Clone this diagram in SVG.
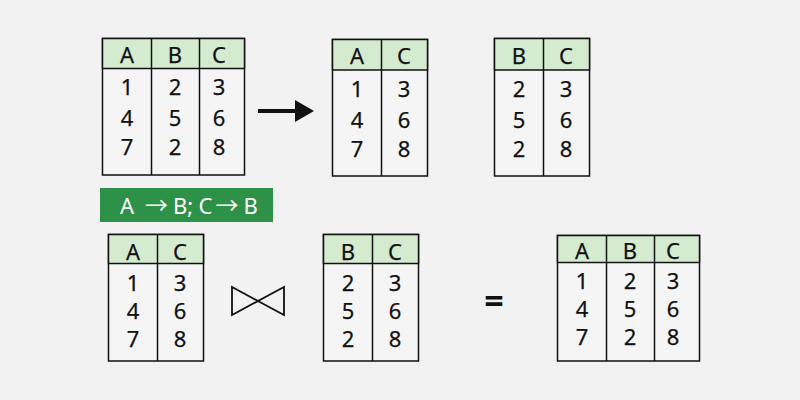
<svg xmlns="http://www.w3.org/2000/svg" width="800" height="400" viewBox="0 0 800 400">
<style>
.bg{fill:#f2f2f2}
.hd{fill:#d5ebd0;stroke:#111;stroke-width:1.5}
.bd{fill:#f5f5f5;stroke:#111;stroke-width:1.5}
.ln{stroke:#111;stroke-width:1.5}
.t{font-family:"Noto Sans","Open Sans","DejaVu Sans",sans-serif;font-size:22px;fill:#111;stroke:#111;stroke-width:0.25;text-anchor:middle}
.lbl{font-family:"Noto Sans","Open Sans","DejaVu Sans",sans-serif;font-size:22px;fill:#fff}
.arr{font-family:"Noto Sans CJK SC","Noto Sans","DejaVu Sans",sans-serif;font-size:23px}
</style>
<rect class="bg" x="0" y="0" width="800" height="400"/>

<g id="table-abc-top">
<rect class="bd" x="102.5" y="38.5" width="142" height="136.5"/>
<rect class="hd" x="102.5" y="38.5" width="142" height="30"/>
<line class="ln" x1="151.5" y1="38.5" x2="151.5" y2="175"/>
<line class="ln" x1="199.5" y1="38.5" x2="199.5" y2="175"/>
<text class="t" x="127" y="63">A</text><text class="t" x="175" y="63">B</text><text class="t" x="219" y="63">C</text>
<text class="t" x="127" y="95">1</text><text class="t" x="175" y="95">2</text><text class="t" x="219" y="95">3</text>
<text class="t" x="127" y="126">4</text><text class="t" x="175" y="126">5</text><text class="t" x="219" y="126">6</text>
<text class="t" x="127" y="155">7</text><text class="t" x="175" y="155">2</text><text class="t" x="219" y="155">8</text>
</g>

<g id="table-ac-top">
<rect class="bd" x="332.5" y="39.5" width="95" height="136.5"/>
<rect class="hd" x="332.5" y="39.5" width="95" height="30.5"/>
<line class="ln" x1="381.5" y1="39.5" x2="381.5" y2="176"/>
<text class="t" x="357" y="64">A</text><text class="t" x="404" y="64">C</text>
<text class="t" x="357" y="97">1</text><text class="t" x="404" y="97">3</text>
<text class="t" x="357" y="128">4</text><text class="t" x="404" y="128">6</text>
<text class="t" x="357" y="157">7</text><text class="t" x="404" y="157">8</text>
</g>

<g id="table-bc-top">
<rect class="bd" x="494.5" y="38.5" width="95" height="137.5"/>
<rect class="hd" x="494.5" y="38.5" width="95" height="31.5"/>
<line class="ln" x1="543.5" y1="38.5" x2="543.5" y2="176"/>
<text class="t" x="519" y="64">B</text><text class="t" x="566" y="64">C</text>
<text class="t" x="519" y="97">2</text><text class="t" x="566" y="97">3</text>
<text class="t" x="519" y="128">5</text><text class="t" x="566" y="128">6</text>
<text class="t" x="519" y="157">2</text><text class="t" x="566" y="157">8</text>
</g>

<g id="fd-label">
<rect x="100" y="188" width="173" height="34" fill="#2e9148"/>
<text class="lbl" y="214"><tspan x="120">A</tspan><tspan class="arr" x="145">→</tspan><tspan x="173">B;</tspan><tspan x="198.5">C</tspan><tspan class="arr" x="215.5">→</tspan><tspan x="243.5">B</tspan></text>
</g>

<g id="table-ac-bottom">
<rect class="bd" x="108.5" y="234.5" width="95" height="126.5"/>
<rect class="hd" x="108.5" y="234.5" width="95" height="29"/>
<line class="ln" x1="157.5" y1="234.5" x2="157.5" y2="361"/>
<text class="t" x="133" y="260">A</text><text class="t" x="180" y="260">C</text>
<text class="t" x="133" y="291">1</text><text class="t" x="180" y="291">3</text>
<text class="t" x="133" y="319">4</text><text class="t" x="180" y="319">6</text>
<text class="t" x="133" y="347">7</text><text class="t" x="180" y="347">8</text>
</g>

<g id="join-symbol">
<path d="M232,287 L232,315 L258,301 Z M284,287 L284,315 L258,301 Z" fill="none" stroke="#111" stroke-width="1.8" stroke-linejoin="miter"/>
</g>

<g id="table-bc-bottom">
<rect class="bd" x="323.5" y="234.5" width="95" height="126.5"/>
<rect class="hd" x="323.5" y="234.5" width="95" height="29"/>
<line class="ln" x1="372.5" y1="234.5" x2="372.5" y2="361"/>
<text class="t" x="348" y="259.5">B</text><text class="t" x="395" y="259.5">C</text>
<text class="t" x="348" y="291">2</text><text class="t" x="395" y="291">3</text>
<text class="t" x="348" y="319">5</text><text class="t" x="395" y="319">6</text>
<text class="t" x="348" y="347">2</text><text class="t" x="395" y="347">8</text>
</g>

<g id="equals">
<text x="494" y="313" font-family="Noto Sans, DejaVu Sans, sans-serif" font-size="34" font-weight="bold" fill="#111" text-anchor="middle">=</text>
</g>

<g id="table-abc-bottom">
<rect class="bd" x="557.5" y="235.5" width="142" height="125.5"/>
<rect class="hd" x="557.5" y="235.5" width="142" height="27"/>
<line class="ln" x1="606.5" y1="235.5" x2="606.5" y2="361"/>
<line class="ln" x1="654.5" y1="235.5" x2="654.5" y2="361"/>
<text class="t" x="582" y="258.5">A</text><text class="t" x="630" y="258.5">B</text><text class="t" x="673" y="258.5">C</text>
<text class="t" x="582" y="289">1</text><text class="t" x="630" y="289">2</text><text class="t" x="673" y="289">3</text>
<text class="t" x="582" y="317">4</text><text class="t" x="630" y="317">5</text><text class="t" x="673" y="317">6</text>
<text class="t" x="582" y="345">7</text><text class="t" x="630" y="345">2</text><text class="t" x="673" y="345">8</text>
</g>

<g id="connectors">
<line x1="258" y1="111" x2="297" y2="111" stroke="#111" stroke-width="4"/>
<polygon points="295,100 314,111 295,122" fill="#111"/>
</g>
</svg>
